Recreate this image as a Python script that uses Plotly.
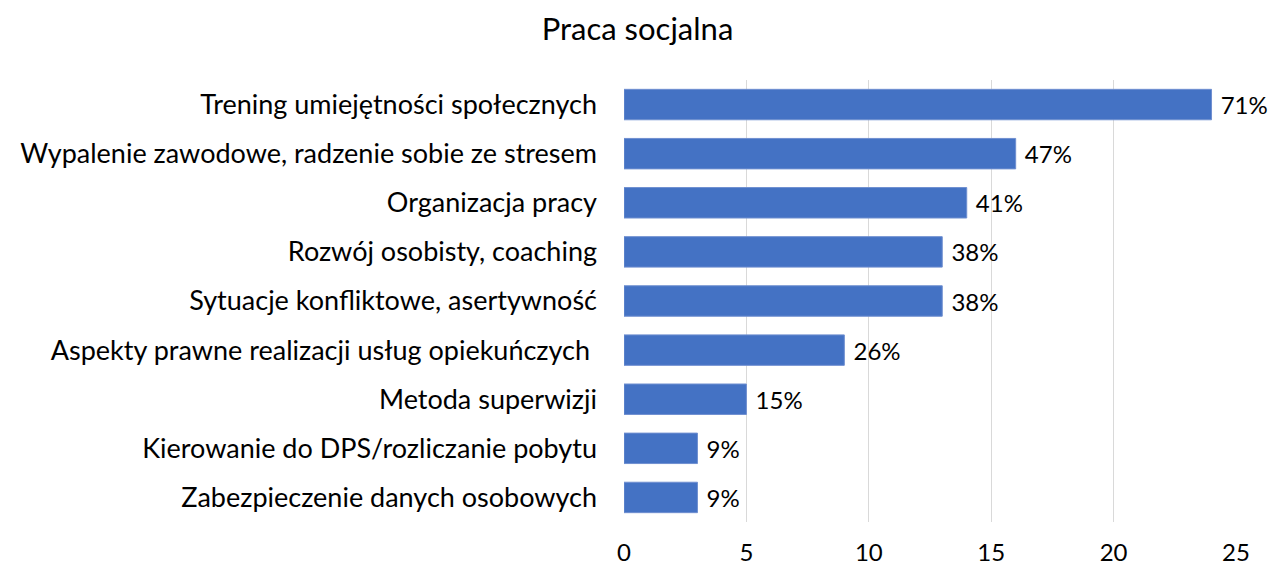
import plotly.graph_objects as go

categories = [
    "Trening umiejętności społecznych",
    "Wypalenie zawodowe, radzenie sobie ze stresem",
    "Organizacja pracy",
    "Rozwój osobisty, coaching",
    "Sytuacje konfliktowe, asertywność",
    "Aspekty prawne realizacji usług opiekuńczych\u00a0",
    "Metoda superwizji",
    "Kierowanie do DPS/rozliczanie pobytu",
    "Zabezpieczenie danych osobowych",
]
values = [24, 16, 14, 13, 13, 9, 5, 3, 3]
labels = ["71%", "47%", "41%", "38%", "38%", "26%", "15%", "9%", "9%"]
x_ticks = [0, 5, 10, 15, 20, 25]

FONT = "Lato, Calibri, Carlito, sans-serif"

fig = go.Figure(go.Bar(
    y=categories,
    x=values,
    orientation="h",
    marker=dict(color="#4472C4", line=dict(color="#6f8fd0", width=1)),
    text=["\u00a0" + s for s in labels],
    textposition="outside",
    textfont=dict(size=24, color="#000000", family=FONT),
    cliponaxis=False,
    width=0.62,
))

fig.update_layout(
    width=1275, height=566,
    margin=dict(l=624, r=39, t=80, b=44, autoexpand=False),
    paper_bgcolor="white", plot_bgcolor="white",
    font=dict(family=FONT, color="#000000"),
    title=dict(text="Praca socjalna", x=0.5, xanchor="center", xref="container",
               y=1 - 29 / 566, yref="container", yanchor="middle",
               font=dict(size=31, color="#000000", family=FONT)),
    showlegend=False,
    bargap=0.38,
)
fig.update_xaxes(
    range=[0, 25], tickvals=x_ticks, showgrid=True, gridcolor="#d9d9d9", gridwidth=1,
    zeroline=False, showline=False, ticks="", tickfont=dict(size=24, color="#000000"),
    ticklabelstandoff=14,
)
fig.update_yaxes(
    autorange="reversed", showgrid=False, zeroline=False, showline=False, ticks="",
    tickfont=dict(size=27, color="#000000"), ticklabelstandoff=26,
)
fig.write_html(
    "out.html",
    config={"displayModeBar": False},
    post_script="document.body.style.margin='0';document.body.style.padding='0';",
)
